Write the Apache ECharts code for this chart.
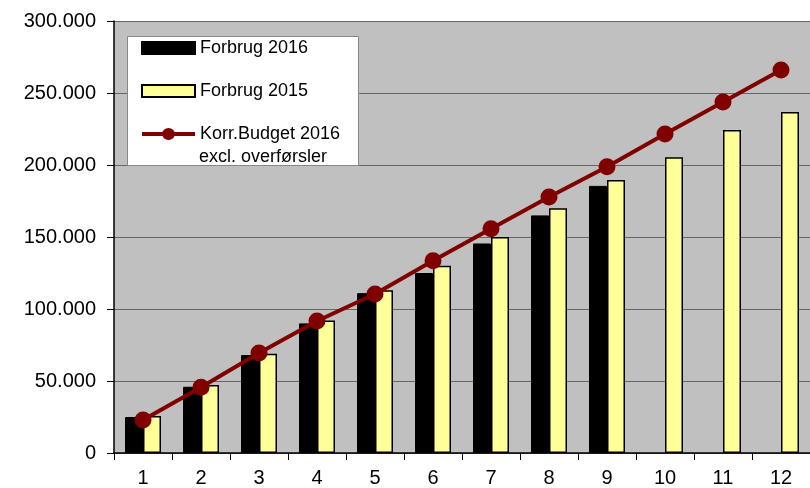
<!DOCTYPE html>
<html>
<head>
<meta charset="utf-8">
<script src="https://cdn.jsdelivr.net/npm/echarts@6/dist/echarts.min.js"></script>
<style>
    html, body { margin: 0; padding: 0; background: #fff; }
    #chart { width: 810px; height: 488px; }
</style>
</head>
<body>
<div id="chart"></div>
<script>
// måneder
var months = ['1', '2', '3', '4', '5', '6', '7', '8', '9', '10', '11', '12'];
var forbrug2016 = [25000, 46000, 68000, 90000, 111000, 125000, 145500, 165000, 185500, null, null, null];
var forbrug2015 = [25700, 47200, 69000, 92000, 113000, 130000, 150000, 170000, 189500, 205300, 224300, 236800];
var budget2016 = [22900, 45600, 69400, 91700, 110400, 133500, 155800, 177800, 198800, 221500, 243700, 266000];

var fmt = function (v) {
    if (v === 0) {
        return '0';
    }
    return (v / 1000).toFixed(0) + '.000';
};

// legend icon: line with a dot in the middle
var lineIcon = 'path://M0,4 L53,4 L53,8 L0,8 Z M20,6 A6.5,6 0 1,1 33,6 A6.5,6 0 1,1 20,6 Z';

var chart = echarts.init(document.getElementById('chart'));
var options = {
    backgroundColor: '#fff',
    animation: false,
    textStyle: {
        fontFamily: 'Liberation Sans, Arial, sans-serif',
        color: '#000'
    },
    grid: {
        left: 114,
        top: 21,
        right: -8,
        bottom: 35,
        show: true,
        backgroundColor: '#c0c0c0',
        borderWidth: 0
    },
    legend: {
        orient: 'vertical',
        left: 127,
        top: 37,
        padding: [0, 0, 0, 14],
        itemWidth: 53,
        itemHeight: 12,
        itemGap: 21,
        z: 6,
        textStyle: {
            fontSize: 18,
            lineHeight: 22,
            color: '#000',
            fontFamily: 'Liberation Sans, Arial, sans-serif'
        },
        data: [
            { name: 'Forbrug 2016', icon: 'rect' },
            { name: 'Forbrug 2015', icon: 'rect' },
            { name: 'Korr.Budget 2016', icon: lineIcon, itemStyle: { color: '#800000', borderWidth: 0 } }
        ]
    },
    graphic: [
        {
            type: 'rect',
            z: 5,
            shape: { x: 127.5, y: 36.5, width: 231, height: 129 },
            style: { fill: '#fff', stroke: '#888', lineWidth: 1 }
        },
        {
            type: 'text',
            z: 7,
            left: 199,
            top: 148,
            style: {
                text: 'excl. overførsler',
                fontSize: 18,
                fontFamily: 'Liberation Sans, Arial, sans-serif',
                fill: '#000'
            }
        }
    ],
    xAxis: {
        type: 'category',
        data: months,
        boundaryGap: true,
        axisLine: { lineStyle: { color: '#000', width: 1.5 } },
        axisTick: { show: true, interval: 0, length: 7, lineStyle: { color: '#000' } },
        axisLabel: { fontSize: 20, color: '#000', margin: 15, interval: 0 },
        splitLine: { show: false }
    },
    yAxis: {
        type: 'value',
        min: 0,
        max: 300000,
        interval: 50000,
        axisLine: { show: true, lineStyle: { color: '#000', width: 1.5 } },
        axisTick: { show: true, length: 7, lineStyle: { color: '#000' } },
        axisLabel: { fontSize: 20, color: '#000', margin: 18, formatter: fmt },
        splitLine: { show: true, lineStyle: { color: '#666', width: 1 } }
    },
    series: [
        {
            name: 'Forbrug 2016',
            type: 'bar',
            data: forbrug2016,
            barWidth: 18,
            barGap: '0%',
            itemStyle: { color: '#000', borderColor: '#000', borderWidth: 1 }
        },
        {
            name: 'Forbrug 2015',
            type: 'bar',
            data: forbrug2015,
            barWidth: 18,
            itemStyle: { color: '#ffff99', borderColor: '#000', borderWidth: 1.5 }
        },
        {
            name: 'Korr.Budget 2016',
            type: 'line',
            data: budget2016,
            symbol: 'circle',
            symbolSize: 17,
            lineStyle: { color: '#800000', width: 4 },
            itemStyle: { color: '#800000' },
            z: 4
        }
    ]
};
chart.setOption(options);
</script>
</body>
</html>
